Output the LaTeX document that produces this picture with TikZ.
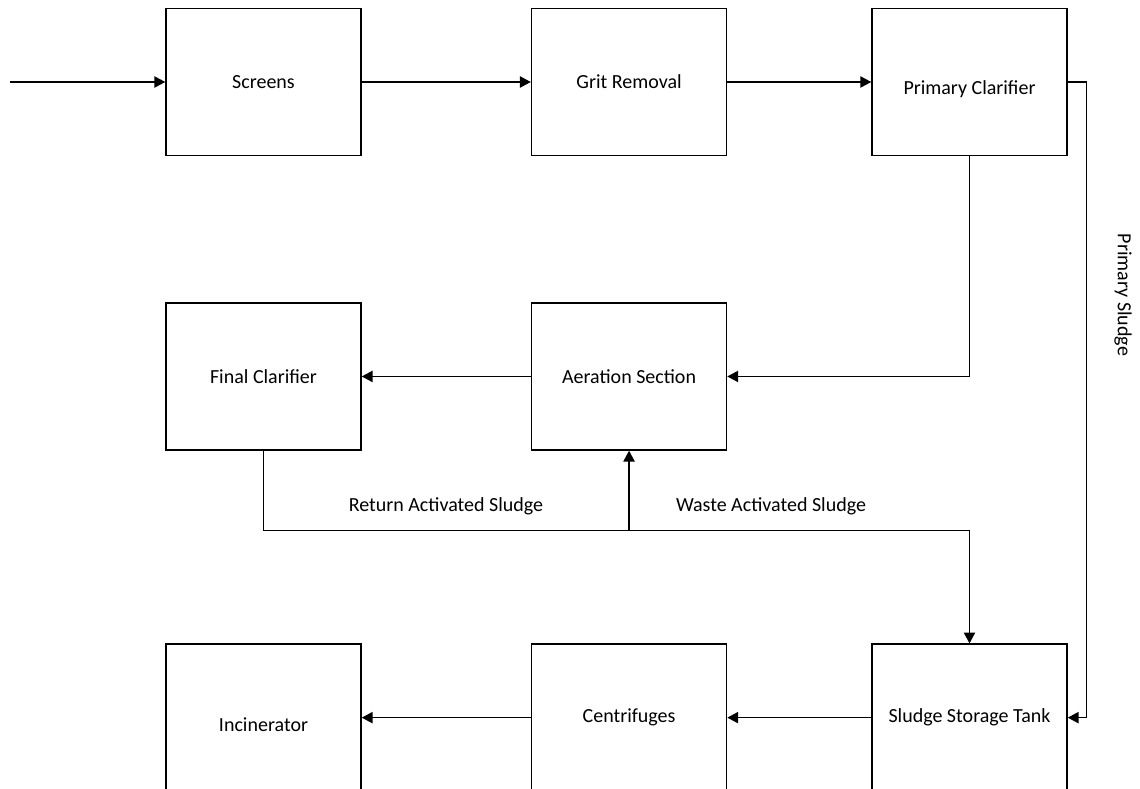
\documentclass[tikz,border=0pt]{standalone}
\usepackage{fontspec}
\setmainfont{Carlito}
\usetikzlibrary{arrows.meta,positioning}
\newcommand{\lowtxt}[1]{\raisebox{-3.85pt}[\height][\depth]{#1}}
\tikzset{
  blk/.style={draw, rectangle, minimum width=107.25pt, minimum height=80.85pt, align=center, font=\fontsize{11}{13}\selectfont, line width=0.8pt, inner sep=2pt},
  lbl/.style={font=\fontsize{11}{13}\selectfont, inner sep=1pt},
  arr/.style={-{Triangle[length=6pt,width=6.2pt]}, line width=0.8pt},
}
\begin{document}
\begin{tikzpicture}[x=0.55pt, y=-0.55pt]
\clip (0,0) rectangle (1140,789);

\node[blk] (screens) at (263.5,82) {Screens};
\node[blk, right=93pt of screens] (grit) {Grit Removal};
\node[blk, right=79.2pt of grit] (primary) {\lowtxt{Primary Clarifier}};

\node[blk, below=80.3pt of screens] (final) {Final Clarifier};
\node[blk, right=93pt of final] (aeration) {Aeration Section};

\node[blk, below=106pt of final] (incin) {\lowtxt{Incinerator}};
\node[blk, right=93pt of incin] (centri) {Centrifuges};
\node[blk, right=79.2pt of centri] (tank) {Sludge Storage Tank};

\coordinate (feed) at (10,82);
\coordinate[below=44pt of final.south] (ras);

\node[lbl, rotate=-90] (pslabel) at (1123,295) {Primary Sludge};
\node[lbl] (raslabel) at (446,506) {Return Activated Sludge};
\node[lbl] (waslabel) at (771,506) {Waste Activated Sludge};

\draw[arr] (feed) -- (screens);
\draw[arr] (screens) -- (grit);
\draw[arr] (grit) -- (primary);
\draw[arr] (primary.east) -- ++(10.45pt,0) |- (tank.east);
\draw[arr] (primary.south) |- (aeration.east);
\draw[arr] (aeration) -- (final);
\draw[arr] (final.south) -- (ras) -| (tank.north);
\draw[arr] (aeration.south |- ras) -- (aeration.south);
\draw[arr] (tank) -- (centri);
\draw[arr] (centri) -- (incin);

\end{tikzpicture}
\end{document}
